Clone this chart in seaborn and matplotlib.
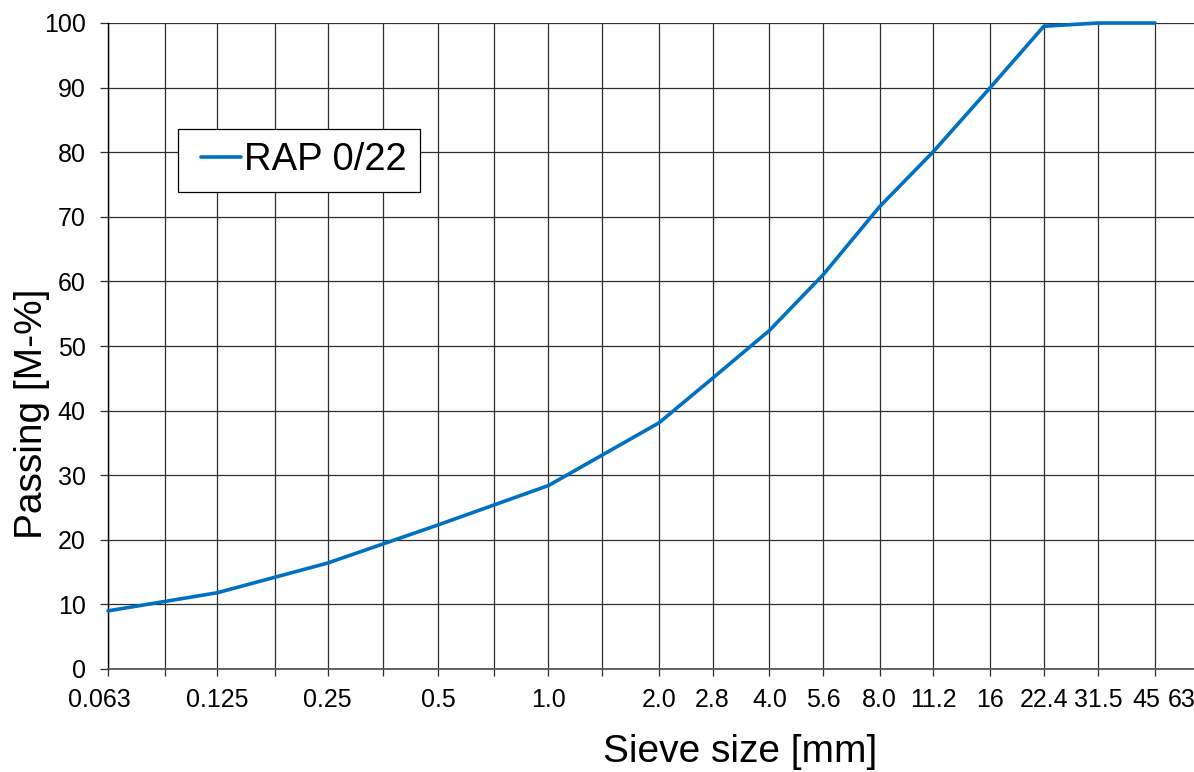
import numpy as np
import pandas as pd
import matplotlib
matplotlib.use("Agg")
import matplotlib.pyplot as plt
from matplotlib.lines import Line2D
from matplotlib.legend_handler import HandlerLine2D
from matplotlib.ticker import FixedLocator, FixedFormatter, NullLocator
import seaborn as sns

# ---- data ----
sieve_mm = [0.063, 0.125, 0.25, 0.5, 1.0, 2.0, 2.8, 4.0, 5.6, 8.0, 11.2, 16, 22.4, 31.5, 45]
passing = [9.0, 11.8, 16.4, 22.3, 28.4, 38.1, 45.0, 52.4, 61.0, 71.6, 80.1, 90.0, 99.5, 100.0, 100.0]
series_name = "RAP 0/22"

# sieve grid (gridlines / ticks) and their labels
grid_sizes = [0.063, 0.09, 0.125, 0.18, 0.25, 0.355, 0.5, 0.71, 1.0, 1.4,
              2.0, 2.8, 4.0, 5.6, 8.0, 11.2, 16, 22.4, 31.5, 45, 63]
grid_labels = ["0.063", "", "0.125", "", "0.25", "", "0.5", "", "1.0", "",
               "2.0", "2.8", "4.0", "5.6", "8.0", "11.2", "16", "22.4", "31.5", "45", "63"]
# labels at the ends are nudged left (pixels), like the original
edge_label_shift = {"0.063": -9, "45": -9, "63": -27}

y_ticks = [0, 10, 20, 30, 40, 50, 60, 70, 80, 90, 100]

LINE_COLOR = "#0070C0"
GRID_COLOR = "#2e2e2e"

sns.set_style("white")
plt.rcParams["font.family"] = ["Liberation Sans", "DejaVu Sans"]
plt.rcParams["text.color"] = "black"
plt.rcParams["axes.labelcolor"] = "black"
plt.rcParams["xtick.labelcolor"] = "black"
plt.rcParams["ytick.labelcolor"] = "black"

fig = plt.figure(figsize=(11.94, 7.72), dpi=100)
ax = fig.add_axes([108 / 1194, 1 - 669 / 772, 1100.6 / 1194, 646 / 772])

df = pd.DataFrame({"size": sieve_mm, "passing": passing})
sns.lineplot(data=df, x="size", y="passing", ax=ax, color=LINE_COLOR,
             linewidth=2.6, label=series_name, sort=False, clip_on=False, zorder=5)

ax.set_xscale("log")
ax.set_xlim(0.063, 63)
ax.set_ylim(0, 100)

ax.xaxis.set_major_locator(FixedLocator(grid_sizes))
tick_text = [("" if lab in edge_label_shift else lab) for lab in grid_labels]
ax.xaxis.set_major_formatter(FixedFormatter(tick_text))
ax.xaxis.set_minor_locator(NullLocator())
ax.set_yticks(y_ticks)

for lab, dx in edge_label_shift.items():
    xv = grid_sizes[grid_labels.index(lab)]
    ax.annotate(lab, xy=(xv, 0), xycoords=("data", "axes fraction"),
                xytext=(dx * 0.72, -5 - 9), textcoords="offset points",
                ha="center", va="top", fontsize=18, color="black", annotation_clip=False)

ax.grid(True, which="major", axis="both", color=GRID_COLOR, linewidth=0.9)
ax.set_axisbelow(True)

ax.tick_params(axis="x", which="major", direction="out", length=5, width=0.9,
               color=GRID_COLOR, pad=9, labelsize=18, bottom=True, labelcolor="black")
ax.tick_params(axis="y", which="major", direction="out", length=6, width=0.9,
               color=GRID_COLOR, pad=10, labelsize=18, left=True, labelcolor="black")

for side in ["top", "right"]:
    ax.spines[side].set_visible(False)
ax.spines["left"].set_color("black")
ax.spines["left"].set_linewidth(1.0)
ax.spines["bottom"].set_color("#555555")
ax.spines["bottom"].set_linewidth(1.3)

ax.set_xlabel("Sieve size [mm]", fontsize=28, color="black")
ax.xaxis.set_label_coords((740 - 108) / 1100.6, (669 - 752) / 646)
ax.xaxis.label.set_va("center")
ax.set_ylabel("Passing [M-%]", fontsize=28, color="black")
ax.yaxis.set_label_coords((32 - 108) / 1100.6, (669 - 414) / 646)
ax.yaxis.label.set_va("center")

# xpad shifts the legend line right inside its handle box, leaving room on the left
leg = ax.legend(loc="upper left", bbox_to_anchor=((178 - 108) / 1100.6, (669 - 129) / 646),
                borderaxespad=0, fontsize=27.5, frameon=True, fancybox=False,
                handlelength=1.3, handletextpad=0.08, borderpad=0.35,
                handler_map={Line2D: HandlerLine2D(xpad=0.24)})
leg.get_frame().set_edgecolor("black")
leg.get_frame().set_linewidth(0.9)
leg.get_frame().set_facecolor("white")
leg.get_frame().set_alpha(1)
for t in leg.get_texts():
    t.set_color("black")

fig.savefig("out.png", dpi=100)
